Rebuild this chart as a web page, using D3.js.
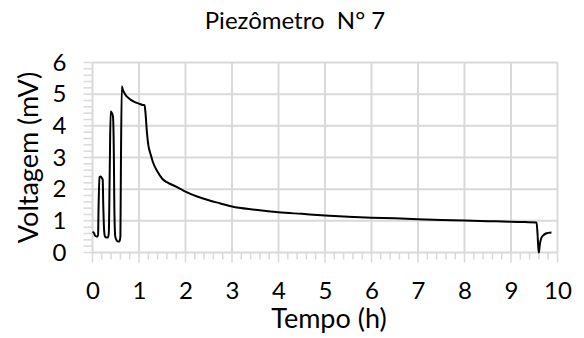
<!DOCTYPE html>
<html>
<head>
<meta charset="utf-8">
<script src="https://cdn.jsdelivr.net/npm/d3@7"></script>
<style>
  html, body { margin: 0; padding: 0; background: #fff; }
  svg { display: block; font-family: Lato, "Open Sans", sans-serif; }
</style>
</head>
<body>
<svg id="chart" width="584" height="338"></svg>
<script>
// Piezometer 7 voltage record over time
const tempoH = [
  0.00, 0.03, 0.06, 0.10, 0.12, 0.13, 0.15, 0.18, 0.20, 0.22, 0.23, 0.25, 0.27, 0.30, 0.33, 0.35,
  0.37, 0.39, 0.41, 0.44, 0.46, 0.47, 0.49, 0.52, 0.55, 0.58, 0.60, 0.61, 0.63, 0.65,
  0.70, 0.80, 0.90, 1.00, 1.08, 1.12, 1.14, 1.17, 1.20, 1.25, 1.30, 1.40, 1.50, 1.60,
  1.80, 2.00, 2.25, 2.50, 2.75, 3.00, 3.50, 4.00, 4.50, 5.00, 5.50, 6.00, 6.50, 7.00,
  7.50, 8.00, 8.50, 9.00, 9.30, 9.55, 9.57, 9.59, 9.60, 9.62, 9.65, 9.70, 9.75, 9.80, 9.87
];
const voltagemMV = [
  0.65, 0.62, 0.52, 0.50, 0.55, 1.40, 2.38, 2.40, 2.35, 2.30, 1.60, 0.70, 0.50, 0.47, 0.47, 0.60,
  2.50, 4.45, 4.42, 4.30, 3.00, 1.40, 0.50, 0.38, 0.35, 0.35, 0.50, 2.50, 5.25, 5.15,
  5.00, 4.85, 4.76, 4.70, 4.66, 4.65, 4.40, 3.80, 3.40, 3.10, 2.85, 2.55, 2.33, 2.22,
  2.08, 1.92, 1.77, 1.65, 1.55, 1.45, 1.35, 1.27, 1.22, 1.17, 1.13, 1.10, 1.08, 1.05,
  1.03, 1.01, 0.99, 0.97, 0.96, 0.95, 0.60, 0.10, 0.00, 0.25, 0.45, 0.55, 0.60, 0.62, 0.63
];
const xTicks = [0, 1, 2, 3, 4, 5, 6, 7, 8, 9, 10];
const yTicks = [0, 1, 2, 3, 4, 5, 6];
const chartTitle = "Piezômetro  N° 7";
const xTitle = "Tempo (h)";
const yTitle = "Voltagem (mV)";

const svg = d3.select("#chart");
const plotLeft = 92.5, plotRight = 557.5, plotTop = 62.5, plotBottom = 252.5;
const fontFamily = "Lato, 'Open Sans', sans-serif";

const x = d3.scaleLinear().domain([0, 10]).range([plotLeft, plotRight]);
const y = d3.scaleLinear().domain([0, 6]).range([plotBottom, plotTop]);

const gridColor = "#d9d9d9";

// Grid
svg.append("g").selectAll("line").data(xTicks).join("line")
  .attr("x1", d => x(d)).attr("x2", d => x(d))
  .attr("y1", plotTop).attr("y2", plotBottom)
  .attr("stroke", gridColor).attr("stroke-width", 2);
svg.append("g").selectAll("line").data(yTicks).join("line")
  .attr("x1", plotLeft).attr("x2", plotRight)
  .attr("y1", d => y(d)).attr("y2", d => y(d))
  .attr("stroke", gridColor).attr("stroke-width", 2);

// Minor ticks
const xMinor = d3.range(0, 10.001, 0.2);
const yMinor = d3.range(0, 6.001, 0.2);
svg.append("g").selectAll("line").data(xMinor).join("line")
  .attr("x1", d => x(d)).attr("x2", d => x(d))
  .attr("y1", plotBottom).attr("y2", d => Math.abs(d - Math.round(d)) < 1e-6 ? plotBottom + 10 : plotBottom + 7)
  .attr("stroke", gridColor).attr("stroke-width", 1.5);
svg.append("g").selectAll("line").data(yMinor).join("line")
  .attr("y1", d => y(d)).attr("y2", d => y(d))
  .attr("x1", plotLeft).attr("x2", plotLeft - 9)
  .attr("stroke", gridColor).attr("stroke-width", 1.5);

// Axes with labels only
const xAxis = svg.append("g").attr("transform", `translate(0,${plotBottom})`)
  .call(d3.axisBottom(x).tickValues(xTicks).tickSize(0).tickPadding(29).tickFormat(d3.format("d")));
xAxis.select(".domain").remove();
xAxis.selectAll("text").attr("font-size", 24).attr("fill", "#000").attr("font-family", fontFamily);

const yAxis = svg.append("g").attr("transform", `translate(${plotLeft},0)`)
  .call(d3.axisLeft(y).tickValues(yTicks).tickSize(0).tickPadding(26).tickFormat(d3.format("d")));
yAxis.select(".domain").remove();
yAxis.selectAll("text").attr("font-size", 24).attr("fill", "#000").attr("font-family", fontFamily);

// Series
const line = d3.line().x((d, i) => x(tempoH[i])).y(d => y(d)).curve(d3.curveMonotoneX);
svg.append("path").datum(voltagemMV)
  .attr("d", line).attr("fill", "none")
  .attr("stroke", "#000").attr("stroke-width", 2).attr("stroke-linejoin", "round");

// Titles
svg.append("text").attr("x", 295).attr("y", 29).attr("text-anchor", "middle")
  .attr("font-size", 24).attr("fill", "#000").style("white-space", "pre").text(chartTitle);
svg.append("text").attr("x", (plotLeft + plotRight) / 2 + 4).attr("y", 328).attr("text-anchor", "middle")
  .attr("font-size", 27).attr("fill", "#000").text(xTitle);
svg.append("text").attr("transform", `translate(38,${(plotTop + plotBottom) / 2}) rotate(-90)`)
  .attr("text-anchor", "middle").attr("font-size", 27).attr("fill", "#000").text(yTitle);
</script>
</body>
</html>
